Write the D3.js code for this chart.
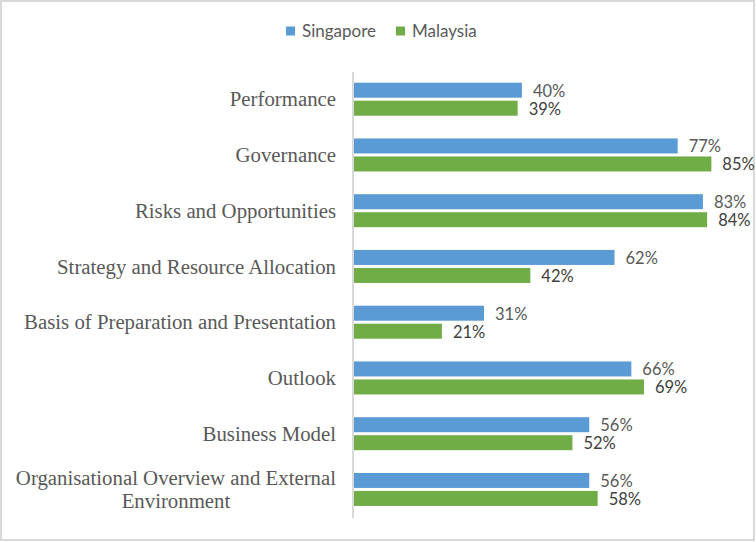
<!DOCTYPE html>
<html>
<head>
<meta charset="utf-8">
<script src="https://cdn.jsdelivr.net/npm/d3@7"></script>
<style>
  html, body { margin: 0; padding: 0; background: #fff; }
  svg { display: block; }
</style>
</head>
<body>
<svg id="chart" width="756" height="542"></svg>
<script>
const categories = [
  "Performance",
  "Governance",
  "Risks and Opportunities",
  "Strategy and Resource Allocation",
  "Basis of Preparation and Presentation",
  "Outlook",
  "Business Model",
  "Organisational Overview and External Environment"
];
const seriesNames = ["Singapore", "Malaysia"];
const singapore = [40, 77, 83, 62, 31, 66, 56, 56];
const malaysia  = [39, 85, 84, 42, 21, 69, 52, 58];
const seriesColors = ["#5B9BD5", "#70AD47"];

const svg = d3.select("#chart");
const W = 756, H = 542;

svg.append("rect").attr("x", 1).attr("y", 1).attr("width", W - 3).attr("height", H - 3)
  .attr("fill", "#fff").attr("stroke", "#D9D9D9").attr("stroke-width", 2);

const y = d3.scaleBand().domain(categories).range([72, 518]).paddingInner(0).paddingOuter(0);
const ys = d3.scaleBand().domain(seriesNames).range([10.7, 43.7]).paddingInner(1 / 6).paddingOuter(0);
const x = d3.scaleLinear().domain([0, 100]).range([353.5, 774.5]);

const seriesVals = [singapore, malaysia];
const data = [];
categories.forEach((c, i) => {
  seriesNames.forEach((s, j) => data.push({ cat: c, series: s, value: seriesVals[j][i], j }));
});

// bars
svg.append("g").selectAll("rect").data(data).join("rect")
  .attr("x", x(0))
  .attr("y", d => y(d.cat) + ys(d.series))
  .attr("width", d => x(d.value) - x(0))
  .attr("height", ys.bandwidth())
  .attr("fill", d => seriesColors[d.j]);

// axis line
svg.append("line").attr("x1", 353).attr("x2", 353).attr("y1", 72).attr("y2", 518)
  .attr("stroke", "#D9D9D9").attr("stroke-width", 2);

// data labels
svg.append("g").selectAll("text").data(data).join("text")
  .attr("x", d => x(d.value) + 11)
  .attr("y", d => y(d.cat) + ys(d.series) + ys.bandwidth() / 2 + 6.5)
  .attr("font-family", "Lato, 'Open Sans', sans-serif")
  .attr("font-size", 16.5)
  .attr("fill", d => d.j === 0 ? "#595959" : "#404040")
  .text(d => d.value + "%");

// category labels (wrapped & centered for multi-line)
const labelFont = "'Liberation Serif', 'Times New Roman', serif";
const labelSize = 20.8;
const lines = {
  "Organisational Overview and External Environment": ["Organisational Overview and External", "Environment"]
};
const lg = svg.append("g");
categories.forEach(c => {
  const ls = lines[c] || [c];
  const cy = y(c) + y.bandwidth() / 2;
  const lh = 23;
  const t = lg.append("text")
    .attr("font-family", labelFont).attr("font-size", labelSize).attr("fill", "#595959");
  ls.forEach((l, k) => {
    t.append("tspan").attr("y", cy + 6.5 + (k - (ls.length - 1) / 2) * lh).text(l);
  });
  const tspans = t.selectAll("tspan").nodes();
  const widths = tspans.map(n => n.getComputedTextLength());
  const maxW = d3.max(widths);
  const right = 336;
  tspans.forEach(n => {
    d3.select(n).attr("x", right - maxW / 2).attr("text-anchor", "middle");
  });
});

// legend
const legend = svg.append("g");
const legendItems = [{ name: "Singapore", x: 286 }, { name: "Malaysia", x: 396 }];
legendItems.forEach((it, i) => {
  legend.append("rect").attr("x", it.x).attr("y", 26.5).attr("width", 9).attr("height", 9)
    .attr("fill", seriesColors[i]);
  legend.append("text").attr("x", it.x + 16).attr("y", 37)
    .attr("font-family", "Lato, 'Open Sans', sans-serif").attr("font-size", 17)
    .attr("fill", "#595959").text(it.name);
});
</script>
</body>
</html>
